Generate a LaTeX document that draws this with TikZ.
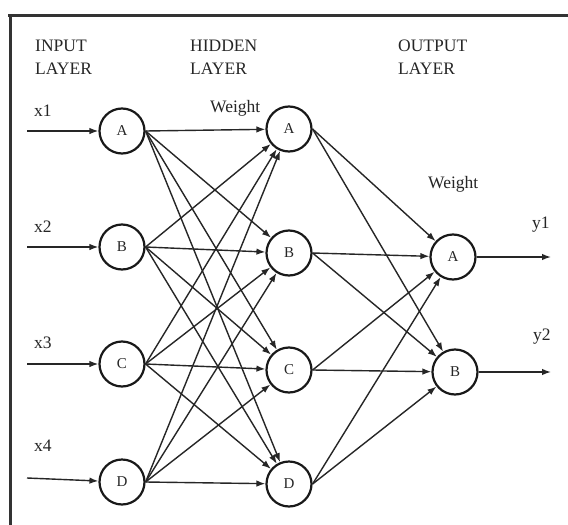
\documentclass[tikz,border=0pt]{standalone}
\usepackage{fontspec}
\setmainfont{Liberation Serif}
\usetikzlibrary{arrows.meta}
\begin{document}
\begin{tikzpicture}[x=1pt,y=-1pt,
  neuron/.style={circle,draw=black!90,line width=2.2pt,minimum size=45pt,inner sep=0pt,
    font=\fontsize{15}{15}\selectfont,text=black!85},
  link/.style={draw=black!85,line width=1.4pt,-{Latex[length=9pt,width=6.5pt]}},
  caption/.style={anchor=north west,inner sep=0pt,align=left,
    font=\fontsize{17.5}{23}\selectfont,text=black!85},
  varlabel/.style={anchor=base west,inner sep=0pt,
    font=\fontsize{17.5}{20}\selectfont,text=black!85},
  frame/.style={draw=black!80,line width=3pt}
]
\useasboundingbox (0,0) rectangle (568,525);
\fill[white] (0,0) rectangle (568,525);

% frame along the top and left edges
\draw[frame] (8,15) -- (568,15);
\draw[frame] (10,15) -- (10,525);

% layer captions
\node[caption] (capIn)  at (35,40)  {INPUT\\LAYER};
\node[caption] (capHid) at (190,40) {HIDDEN\\LAYER};
\node[caption] (capOut) at (398,40) {OUTPUT\\LAYER};
\node[caption] (w1) at (210,100) {Weight};
\node[caption] (w2) at (428,176) {Weight};

% input layer
\node[neuron] (iA) at (122,131) {A};
\node[neuron] (iB) at (122,247) {B};
\node[neuron] (iC) at (122,364) {C};
\node[neuron] (iD) at (122,482) {D};

% hidden layer
\node[neuron] (hA) at (289,129) {A};
\node[neuron] (hB) at (289,253) {B};
\node[neuron] (hC) at (289,370) {C};
\node[neuron] (hD) at (289,484) {D};

% output layer
\node[neuron] (oA) at (453,257) {A};
\node[neuron] (oB) at (455,372) {B};

% input signals
\node[varlabel] (x1) at (34,116) {x1};
\node[varlabel] (x2) at (34,232) {x2};
\node[varlabel] (x3) at (34,348) {x3};
\node[varlabel] (x4) at (34,451) {x4};
\coordinate (s1) at (27,131);
\coordinate (s2) at (27,247);
\coordinate (s3) at (27,364);
\coordinate (s4) at (27,478);
\draw[link] (s1) -- (iA);
\draw[link] (s2) -- (iB);
\draw[link] (s3) -- (iC);
\draw[link] (s4) -- (iD);

% input -> hidden, fully connected
\foreach \s in {A,B,C,D}{
  \foreach \t in {A,B,C,D}{
    \draw[link] (i\s.east) -- (h\t);
  }
}

% hidden -> output, fully connected
\foreach \s in {A,B,C,D}{
  \foreach \t in {A,B}{
    \draw[link] (h\s.east) -- (o\t);
  }
}

% output signals
\node[varlabel] (y1) at (532,228) {y1};
\node[varlabel] (y2) at (533,340) {y2};
\coordinate (e1) at (551,257);
\coordinate (e2) at (551,372);
\draw[link] (oA) -- (e1);
\draw[link] (oB) -- (e2);
\end{tikzpicture}
\end{document}
